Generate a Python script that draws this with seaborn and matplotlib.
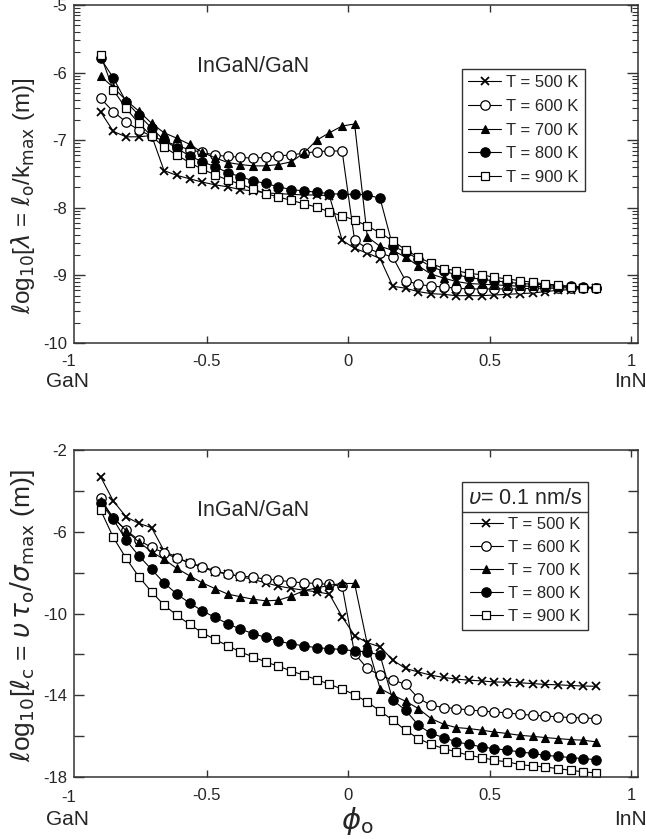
import numpy as np
import matplotlib
matplotlib.use("Agg")
import matplotlib.pyplot as plt
import seaborn as sns
from matplotlib.lines import Line2D
from matplotlib.ticker import FixedLocator

sns.set_style("ticks")
plt.rcParams['font.family'] = ['Liberation Sans', 'DejaVu Sans']
plt.rcParams['axes.unicode_minus'] = False
plt.rcParams['mathtext.fontset'] = 'dejavusans'

# composition phi_o
phi = [-0.875, -0.830, -0.785, -0.740, -0.695, -0.651, -0.606, -0.561, -0.516, -0.471,
       -0.426, -0.381, -0.337, -0.292, -0.247, -0.202, -0.157, -0.112, -0.067, -0.022,
       0.022, 0.067, 0.112, 0.157, 0.202, 0.247, 0.292, 0.337, 0.381, 0.426,
       0.471, 0.516, 0.561, 0.606, 0.651, 0.695, 0.740, 0.785, 0.830, 0.875]

temps = ["T = 500 K", "T = 600 K", "T = 700 K", "T = 800 K", "T = 900 K"]

# top panel: log10(lambda)
lam_500 = [-6.58, -6.87, -6.95, -6.95, -6.93, -7.45, -7.52, -7.57, -7.62, -7.66,
           -7.69, -7.73, -7.75, -7.78, -7.79, -7.80, -7.81, -7.81, -7.82, -8.48,
           -8.60, -8.67, -8.75, -9.16, -9.19, -9.24, -9.27, -9.28, -9.30, -9.30,
           -9.30, -9.29, -9.28, -9.27, -9.26, -9.24, -9.22, -9.21, -9.19, -9.18]
lam_600 = [-6.38, -6.58, -6.73, -6.85, -6.94, -7.01, -7.08, -7.14, -7.18, -7.22,
           -7.24, -7.25, -7.27, -7.25, -7.23, -7.22, -7.19, -7.17, -7.16, -7.16,
           -8.48, -8.60, -8.67, -8.73, -9.08, -9.13, -9.16, -9.17, -9.19, -9.20,
           -9.20, -9.20, -9.20, -9.20, -9.19, -9.19, -9.19, -9.18, -9.18, -9.18]
lam_700 = [-6.05, -6.22, -6.41, -6.57, -6.75, -6.89, -6.97, -7.06, -7.18, -7.26,
           -7.33, -7.36, -7.38, -7.38, -7.36, -7.32, -7.19, -7.00, -6.89, -6.79,
           -6.76, -8.43, -8.57, -8.63, -8.73, -8.86, -8.98, -9.04, -9.09, -9.12,
           -9.13, -9.14, -9.15, -9.16, -9.16, -9.17, -9.17, -9.17, -9.18, -9.18]
lam_800 = [-5.79, -6.08, -6.43, -6.63, -6.82, -7.00, -7.12, -7.23, -7.32, -7.39,
           -7.48, -7.54, -7.60, -7.64, -7.69, -7.73, -7.75, -7.77, -7.79, -7.80,
           -7.80, -7.81, -7.86, -8.57, -8.65, -8.76, -8.87, -8.94, -8.99, -9.03,
           -9.06, -9.08, -9.10, -9.12, -9.13, -9.14, -9.15, -9.16, -9.17, -9.18]
lam_900 = [-5.74, -6.26, -6.53, -6.75, -6.94, -7.10, -7.22, -7.33, -7.43, -7.51,
           -7.59, -7.65, -7.72, -7.79, -7.84, -7.89, -7.94, -7.99, -8.06, -8.12,
           -8.18, -8.27, -8.37, -8.49, -8.62, -8.73, -8.82, -8.90, -8.93, -8.97,
           -8.99, -9.03, -9.05, -9.08, -9.10, -9.13, -9.14, -9.17, -9.18, -9.19]

# bottom panel: log10(l_c)
lc_500 = [-3.31, -4.50, -5.27, -5.59, -5.80, -6.93, -7.26, -7.52, -7.75, -7.96,
          -8.07, -8.20, -8.33, -8.50, -8.66, -8.77, -8.86, -8.94, -9.05, -10.16,
          -11.08, -11.43, -11.63, -12.28, -12.69, -12.86, -13.02, -13.13, -13.21, -13.26,
          -13.30, -13.35, -13.36, -13.39, -13.43, -13.47, -13.49, -13.52, -13.55, -13.56]
lc_600 = [-4.37, -5.35, -5.92, -6.41, -6.77, -7.03, -7.30, -7.52, -7.71, -7.91,
          -8.07, -8.17, -8.22, -8.32, -8.37, -8.45, -8.50, -8.53, -8.58, -8.66,
          -11.96, -12.69, -13.02, -13.26, -13.46, -14.14, -14.49, -14.60, -14.65, -14.72,
          -14.77, -14.82, -14.86, -14.93, -14.98, -15.01, -15.06, -15.09, -15.11, -15.14]
lc_700 = [-4.50, -5.30, -5.95, -6.50, -6.98, -7.35, -7.79, -8.15, -8.50, -8.78,
          -9.05, -9.18, -9.30, -9.38, -9.35, -9.15, -8.88, -8.75, -8.62, -8.53,
          -8.53, -11.50, -13.67, -14.00, -14.29, -14.65, -15.14, -15.42, -15.58, -15.63,
          -15.71, -15.80, -15.87, -15.96, -16.01, -16.07, -16.12, -16.17, -16.20, -16.28]
lc_800 = [-4.58, -5.40, -6.41, -7.18, -7.84, -8.50, -9.05, -9.48, -9.87, -10.19,
          -10.50, -10.77, -10.98, -11.17, -11.36, -11.48, -11.59, -11.67, -11.72, -11.76,
          -11.83, -11.88, -12.04, -14.24, -14.73, -15.46, -15.87, -16.07, -16.28, -16.40,
          -16.53, -16.61, -16.69, -16.77, -16.85, -16.94, -16.99, -17.05, -17.10, -17.15]
lc_900 = [-4.94, -6.28, -7.30, -8.20, -8.94, -9.59, -10.08, -10.53, -10.94, -11.27,
          -11.58, -11.88, -12.12, -12.37, -12.58, -12.81, -13.02, -13.23, -13.46, -13.70,
          -13.97, -14.33, -14.77, -15.22, -15.71, -16.12, -16.40, -16.61, -16.77, -16.94,
          -17.05, -17.18, -17.26, -17.39, -17.46, -17.51, -17.59, -17.67, -17.75, -17.80]

top_series = [lam_500, lam_600, lam_700, lam_800, lam_900]
bot_series = [lc_500, lc_600, lc_700, lc_800, lc_900]

styles = [
    dict(marker='x', markersize=6.2, markeredgewidth=1.3, markerfacecolor='black', markeredgecolor='black'),
    dict(marker='o', markersize=6.8, markeredgewidth=0.9, markerfacecolor='white', markeredgecolor='black'),
    dict(marker='^', markersize=6.3, markeredgewidth=0.8, markerfacecolor='black', markeredgecolor='black'),
    dict(marker='o', markersize=6.8, markeredgewidth=0.8, markerfacecolor='black', markeredgecolor='black'),
    dict(marker='s', markersize=6.0, markeredgewidth=0.9, markerfacecolor='white', markeredgecolor='black'),
]

W, H = 646, 839
fig = plt.figure(figsize=(W / 100, H / 100), dpi=100)
ax1 = fig.add_axes([74 / W, 1 - 343 / H, 564 / W, 338 / H])
ax2 = fig.add_axes([74 / W, 1 - 777 / H, 564 / W, 327 / H])

for ax, series in ((ax1, top_series), (ax2, bot_series)):
    for lab, vals, st in zip(temps, series, styles):
        sns.lineplot(x=phi, y=vals, ax=ax, color='black', linewidth=0.8,
                     label=lab, sort=False, **st)

spine_c = '#333333'
for ax in (ax1, ax2):
    ax.set_xlim(-0.969, 1.023)
    ax.set_xticks([-0.5, 0, 0.5, 1])
    ax.set_xticklabels(['-0.5', '0', '0.5', '1'])
    for s in ax.spines.values():
        s.set_visible(True)
        s.set_linewidth(1.1)
        s.set_color(spine_c)
    ax.tick_params(axis='x', which='major', direction='in', top=True, bottom=True,
                   length=5, width=1, color=spine_c, labelsize=12, pad=8)
    ax.tick_params(axis='y', which='both', direction='in', left=True, right=True,
                   color=spine_c, labelsize=12, pad=5)
    ax.set_xlabel('')
    ax.set_ylabel('')

# top axis
ax1.set_ylim(-10, -5)
ax1.set_yticks([-10, -9, -8, -7, -6, -5])
ax1.set_yticklabels(['-10', '-9', '-8', '-7', '-6', '-5'])
minor = [d + np.log10(k) for d in range(-10, -5) for k in range(2, 10)]
ax1.yaxis.set_minor_locator(FixedLocator(minor))
ax1.tick_params(axis='y', which='major', length=8, width=1)
ax1.tick_params(axis='y', which='minor', length=4, width=0.8)

# bottom axis
ax2.set_ylim(-18, -2)
ax2.set_yticks([-18, -14, -10, -6, -2])
ax2.set_yticklabels(['-18', '-14', '-10', '-6', '-2'])
ax2.yaxis.set_minor_locator(FixedLocator([-16, -12, -8, -4]))
ax2.tick_params(axis='y', which='both', length=7.5, width=1)

# text
for ax, yy in ((ax1, 0.817), (ax2, 0.815)):
    ax.text(0.317, yy, 'InGaN/GaN', transform=ax.transAxes, ha='center', va='center', fontsize=15.5)

for yl, yg in ((361, 381.7), (798, 819.5)):
    fig.text(69 / W, 1 - yl / H, '-1', ha='center', va='center', fontsize=12)
    fig.text(67.5 / W, 1 - yg / H, 'GaN', ha='center', va='center', fontsize=15)
    fig.text(630 / W, 1 - yg / H, 'InN', ha='center', va='center', fontsize=15)

fig.text(23 / W, 1 - 196 / H,
         r'$\ell$og$_{10}$[$\lambda$ = $\ell_{\rm o}$/k$_{\rm max}$ (m)]',
         rotation=90, ha='center', va='center', fontsize=17.5)
fig.text(23 / W, 1 - 616 / H,
         r'$\ell$og$_{10}$[$\ell_{\rm c}$ = $\upsilon\,\tau_{\rm o}/\sigma_{\rm max}$ (m)]',
         rotation=90, ha='center', va='center', fontsize=19)
fig.text(357 / W, 1 - 821 / H, r'$\phi_{\rm o}$', ha='center', va='center', fontsize=21)

# legends
leg1 = ax1.legend(loc='upper left', bbox_to_anchor=(0.6874, 0.8107), borderaxespad=0,
                  fontsize=12, frameon=True, fancybox=False, framealpha=1,
                  edgecolor='#333333', handlelength=2.0, handletextpad=0.3,
                  labelspacing=0.52, borderpad=0.38, numpoints=1)
leg1.get_frame().set_linewidth(1.0)
leg2 = ax2.legend(loc='upper left', bbox_to_anchor=(0.6874, 0.902), borderaxespad=0,
                  fontsize=12, frameon=True, fancybox=False, framealpha=1,
                  edgecolor='#333333', handlelength=2.0, handletextpad=0.3,
                  labelspacing=0.48, borderpad=0.36, numpoints=1,
                  title=r'$\upsilon$= 0.1 nm/s', title_fontsize=15.5)
leg2.get_frame().set_linewidth(1.0)

fig.canvas.draw()
r = fig.canvas.get_renderer()
fb = leg2.get_frame().get_window_extent(r)
tb = leg2.get_title().get_window_extent(r)
ysep = tb.y0 - 3
fig.add_artist(Line2D([fb.x0 / W, fb.x1 / W], [ysep / H, ysep / H],
                      transform=fig.transFigure, color='#333333', linewidth=1.0))

fig.savefig('out.png', dpi=100)
